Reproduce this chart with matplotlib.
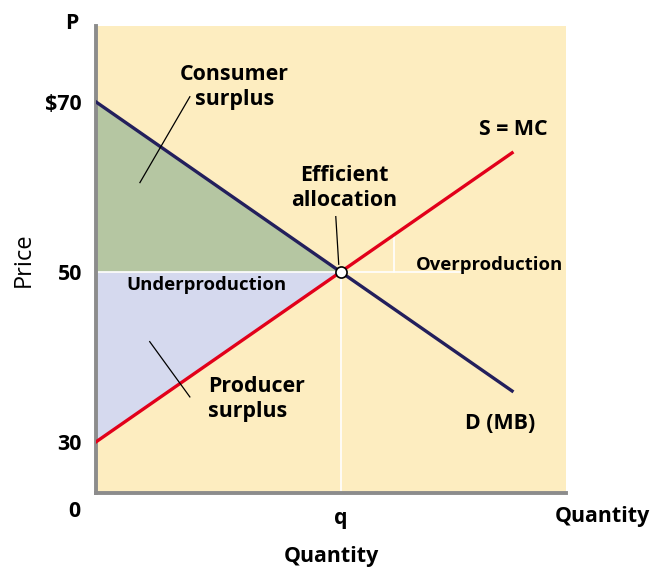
import numpy as np
import matplotlib.pyplot as plt

plt.rcParams['font.family'] = ['Open Sans', 'DejaVu Sans']

# data
q_ends = [0, 17]
demand_p = [70, 36]
supply_p = [30, 64]
eq_q, eq_p = 10, 50
ytick_vals = [30, 50, 70]
ytick_labels = ['30', '50', '$70']
over_q = 12.16

bg = '#fdedc0'
navy = '#231f5c'
red = '#e2001a'
axis_gray = '#8c8c8c'

fig = plt.figure(figsize=(6.52, 5.68), dpi=100)
ax = fig.add_axes([0.147, 0.132, 0.721, 0.822])
ax.set_xlim(0, 19.2)
ax.set_ylim(24, 78.9)
ax.set_facecolor(bg)

# surplus triangles
qq = np.array([0, eq_q])
d_line = np.interp(qq, q_ends, demand_p)
s_line = np.interp(qq, q_ends, supply_p)
ax.fill_between(qq, eq_p, d_line, color='#b5c6a2', lw=0)
ax.fill_between(qq, s_line, eq_p, color='#d5d9ee', lw=0)

# white guide lines
ax.plot([0, 15.0], [eq_p, eq_p], color='white', lw=1.2, zorder=2)
ax.plot([eq_q, eq_q], [24, eq_p], color='white', lw=1.2, zorder=2)
ax.plot([over_q, over_q], [eq_p, np.interp(over_q, q_ends, supply_p)], color='white', lw=1.2, zorder=2)

# curves
ax.plot(q_ends, demand_p, color=navy, lw=2.4, zorder=3)
ax.plot(q_ends, supply_p, color=red, lw=2.4, zorder=3)
ax.plot(eq_q, eq_p, 'o', ms=8, mfc='white', mec='black', mew=1.2, zorder=5)

# leader lines
ax.plot([3.84, 1.80], [70.6, 60.5], color='black', lw=0.9, zorder=4)
ax.plot([2.20, 3.84], [41.8, 35.3], color='black', lw=0.9, zorder=4)
ax.plot([9.80, 9.92], [56.5, 50.9], color='black', lw=0.9, zorder=4)

big = 15.4
small = 13.3
bold = dict(fontweight='bold', color='black')
ax.text(5.67, 71.8, 'Consumer\nsurplus', ha='center', va='center', fontsize=big, linespacing=1.25, **bold)
ax.text(10.16, 59.9, 'Efficient\nallocation', ha='center', va='center', fontsize=big, linespacing=1.25, **bold)
ax.text(17.06, 66.7, 'S = MC', ha='center', va='center', fontsize=big, **bold)
ax.text(16.08, 50.8, 'Overproduction', ha='center', va='center', fontsize=small, **bold)
ax.text(4.53, 48.5, 'Underproduction', ha='center', va='center', fontsize=small, **bold)
ax.text(4.57, 35.1, 'Producer\nsurplus', ha='left', va='center', fontsize=big, linespacing=1.25, **bold)
ax.text(16.53, 32.2, 'D (MB)', ha='center', va='center', fontsize=big, **bold)

# outside labels
ax.text(-0.98, 79.2, 'P', ha='center', va='center', fontsize=big, clip_on=False, **bold)
ax.text(-0.86, 21.8, '0', ha='center', va='center', fontsize=big, clip_on=False, **bold)
ax.text(20.7, 21.2, 'Quantity', ha='center', va='center', fontsize=big, clip_on=False, **bold)

ax.set_yticks(ytick_vals)
ax.set_yticklabels(ytick_labels, fontsize=big, fontweight='bold')
ax.set_xticks([eq_q])
ax.set_xticklabels(['q'], fontsize=big, fontweight='bold')
ax.tick_params(length=0)
ax.tick_params(axis='y', pad=10)
ax.tick_params(axis='x', pad=11)

ax.set_xlabel('Quantity', fontsize=big, fontweight='bold', labelpad=12)
ax.set_ylabel('Price', fontsize=17, labelpad=7)

for side in ['top', 'right']:
    ax.spines[side].set_visible(False)
for side in ['left', 'bottom']:
    ax.spines[side].set_color(axis_gray)
    ax.spines[side].set_linewidth(2.8)

fig.savefig('out.png', dpi=100)
